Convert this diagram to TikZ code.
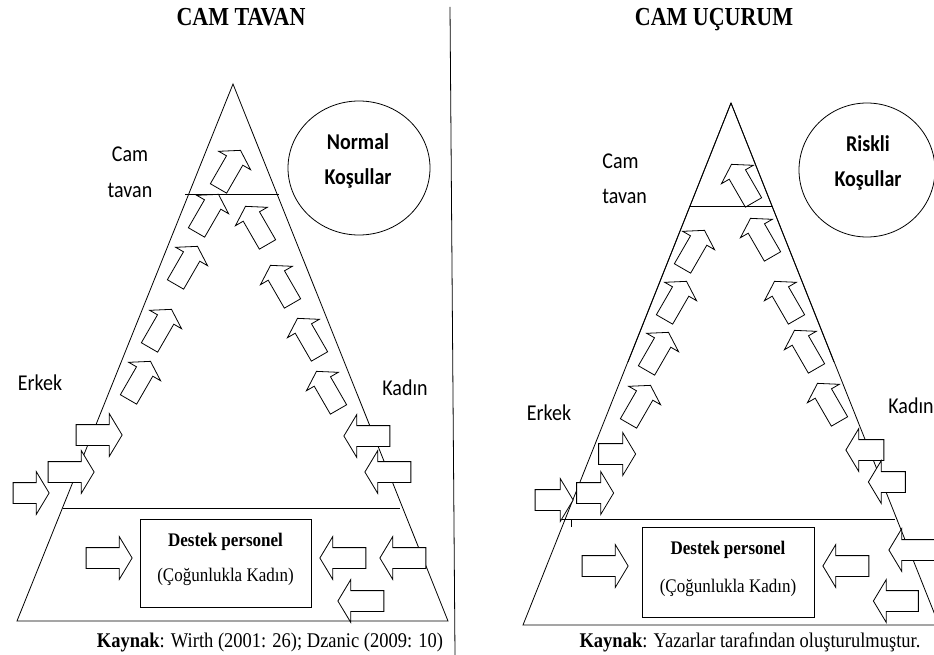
\documentclass[tikz,border=0pt]{standalone}
\usepackage{fontspec}
\setmainfont{Liberation Serif}
\newfontfamily\calib{Carlito}
\newcommand\vstr[1]{\scalebox{1}[1.13]{#1}}
\usetikzlibrary{shapes.arrows,shapes.geometric}
\begin{document}
\begin{tikzpicture}[x=1pt,y=-1pt, line width=0.8pt,
  arr/.style={single arrow, draw, fill=white, inner xsep=0pt, inner ysep=10pt,
    single arrow head extend=11pt, single arrow tip angle=118,
    minimum height=#1, minimum width=0pt},
  arr/.default=46pt,
  sarr/.style={single arrow, draw, fill=white, inner xsep=0pt, inner ysep=9pt,
    single arrow head extend=9pt, single arrow tip angle=115,
    minimum height=44pt, minimum width=0pt},
  ttl/.style={font=\bfseries\fontsize{22}{26}\selectfont, inner sep=0pt, anchor=base},
  lbl/.style={font=\calib\fontsize{20}{24}\selectfont, inner sep=0pt, anchor=base},
  blbl/.style={font=\calib\bfseries\fontsize{20}{24}\selectfont, inner sep=0pt, anchor=base},
  boxt/.style={font=\fontsize{17}{20}\selectfont, inner sep=0pt, anchor=base},
  boxb/.style={font=\bfseries\fontsize{17}{20}\selectfont, inner sep=0pt, anchor=base},
  captxt/.style={font=\fontsize{18.5}{22}\selectfont, inner sep=0pt, anchor=base},
  boxr/.style={draw, rectangle, inner sep=0pt},
  circ/.style={draw, ellipse, inner sep=0pt}
]
\useasboundingbox (0,0) rectangle (934,655);

% divider
\coordinate (dv1) at (450,7);
\coordinate (dv2) at (455,655);
\draw (dv1) -- (dv2);

% ================= LEFT: CAM TAVAN =================
\node[ttl] (t1) at (241,26) {\scalebox{1}[1.18]{CAM TAVAN}};
\coordinate (LA) at (233,84);
\coordinate (LR) at (448,621);
\coordinate (LL) at (17,621);
\draw (LA) -- (LR) -- (LL) -- cycle;
\coordinate (lc1) at (185,194); \coordinate (lc2) at (279,194);
\coordinate (lb1) at (63,508); \coordinate (lb2) at (400,508);
\draw (lb1) -- (lb2);

\node[circ, minimum width=142pt, minimum height=134pt] (lcirc) at (359,168) {};
\node[blbl] (ln1) at (358,150) {\vstr{Normal}};
\node[blbl] (ln2) at (358,185) {\vstr{Koşullar}};

\node[lbl] (lcam) at (130,162) {\vstr{Cam}};
\node[lbl] (ltav) at (130,197) {\vstr{tavan}};
\node[lbl] (lerk) at (40,390) {\vstr{Erkek}};
\node[lbl] (lkad) at (405,395) {\vstr{Kadın}};

\node[boxr, minimum width=171pt, minimum height=88pt] (lbox) at (225.5,563) {};
\node[boxb] (lbt1) at (225.5,546) {\vstr{Destek personel}};
\node[boxt] (lbt2) at (225.5,581) {\vstr{(Çoğunlukla Kadın)}};

% left-side slanted arrows
\node[sarr, rotate=60] (la1) at (228,172) {};
\node[sarr, rotate=60] (la2) at (206,216) {};
\node[sarr, rotate=60] (la3) at (185,268) {};
\node[sarr, rotate=60] (la4) at (159,331) {};
\node[sarr, rotate=60] (la5) at (138,383) {};
\draw (lc1) -- (lc2);
% right-side slanted arrows
\node[sarr, rotate=120] (lr1) at (258,228) {};
\node[sarr, rotate=120] (lr2) at (283,287) {};
\node[sarr, rotate=120] (lr3) at (310,340) {};
\node[sarr, rotate=120] (lr4) at (329,393) {};
% horizontal right-pointing
\node[arr] (lh1) at (96,435) {};
\node[arr] (lh2) at (68,472) {};
\node[arr=36pt] (lh3) at (28,493) {};
\node[arr] (lh4) at (106,558) {};
% horizontal left-pointing
\node[arr, rotate=180] (lk1) at (370,436) {};
\node[arr, rotate=180] (lk2) at (391,472) {};
\node[arr, rotate=180] (lk3) at (346,558) {};
\node[arr, rotate=180] (lk4) at (406,558) {};
\node[arr, rotate=180] (lk5) at (364,601) {};

\node[captxt] (lcap) at (270,647) {\vstr{\textbf{Kaynak}: Wirth (2001: 26); Dzanic (2009: 10)}};

% ================= RIGHT: CAM UCURUM =================
\node[ttl] (t2) at (714,26) {\scalebox{1}[1.18]{CAM UÇURUM}};
\coordinate (RA) at (731,103);
\coordinate (RR) at (939,625);
\coordinate (RL) at (523,625);
\draw (RA) -- (RR) -- (RL) -- cycle;
\coordinate (rc1) at (690,206); \coordinate (rc2) at (772,206);
\coordinate (rb1) at (562,519); \coordinate (rb2) at (895,519);
\coordinate (rt1) at (571,519); \coordinate (rt2) at (571,527);
\draw (rb1) -- (rb2);
\draw (rt1) -- (rt2);

\node[circ, minimum width=136pt, minimum height=134pt] (rcirc) at (867,170) {};
\node[blbl] (rn1) at (868,152) {\vstr{Riskli}};
\node[blbl] (rn2) at (868,187) {\vstr{Koşullar}};

\node[lbl, anchor=base west] (rcam) at (602,169) {\vstr{Cam}};
\node[lbl, anchor=base west] (rtav) at (602,204) {\vstr{tavan}};
\node[lbl] (rerk) at (549,420) {\vstr{Erkek}};
\node[lbl] (rkad) at (911,413) {\vstr{Kadın}};

\node[boxr, minimum width=172pt, minimum height=90pt] (rbox) at (728,572) {};
\node[boxb] (rbt1) at (728,554) {\vstr{Destek personel}};
\node[boxt] (rbt2) at (728,592) {\vstr{(Çoğunlukla Kadın)}};

% slanted up-left
\node[sarr, rotate=120] (rr1) at (744,186) {};
\draw (rc1) -- (rc2);
\node[sarr, rotate=120] (rr2) at (763,240) {};
\node[sarr, rotate=120] (rr3) at (787,303) {};
\node[sarr, rotate=120] (rr4) at (807,352) {};
\node[sarr, rotate=120] (rr5) at (830,405) {};
% slanted up-right
\node[sarr, rotate=60] (rl1) at (692,252) {};
\node[sarr, rotate=60] (rl2) at (674,303) {};
\node[sarr, rotate=60] (rl3) at (656,354) {};
\node[sarr, rotate=60] (rl4) at (638,407) {};
% redraw upper sides over slanted arrows
\coordinate (rsl) at (628,362);
\coordinate (rsr) at (834,362);
\draw (RA) -- (rsl);
\draw (RA) -- (rsr);
% horizontal right-pointing
\node[arr=37pt] (rh1) at (614,454) {};
\node[arr=37pt] (rh2) at (592,493) {};
\node[arr=38pt] (rh3) at (551,500) {};
\node[arr] (rh4) at (602,566) {};
% horizontal left-pointing
\node[arr=38pt, rotate=180] (rk1) at (868,450) {};
\node[arr=37pt, rotate=180] (rk2) at (890,482) {};
\node[arr, rotate=180] (rk3) at (915,550) {};
\node[arr=45pt, rotate=180] (rk4) at (899,601) {};
\node[arr, rotate=180] (rk5) at (849,566) {};

\node[captxt] (rcap) at (750,647) {\vstr{\textbf{Kaynak}: Yazarlar tarafından oluşturulmuştur.}};
\end{tikzpicture}
\end{document}
